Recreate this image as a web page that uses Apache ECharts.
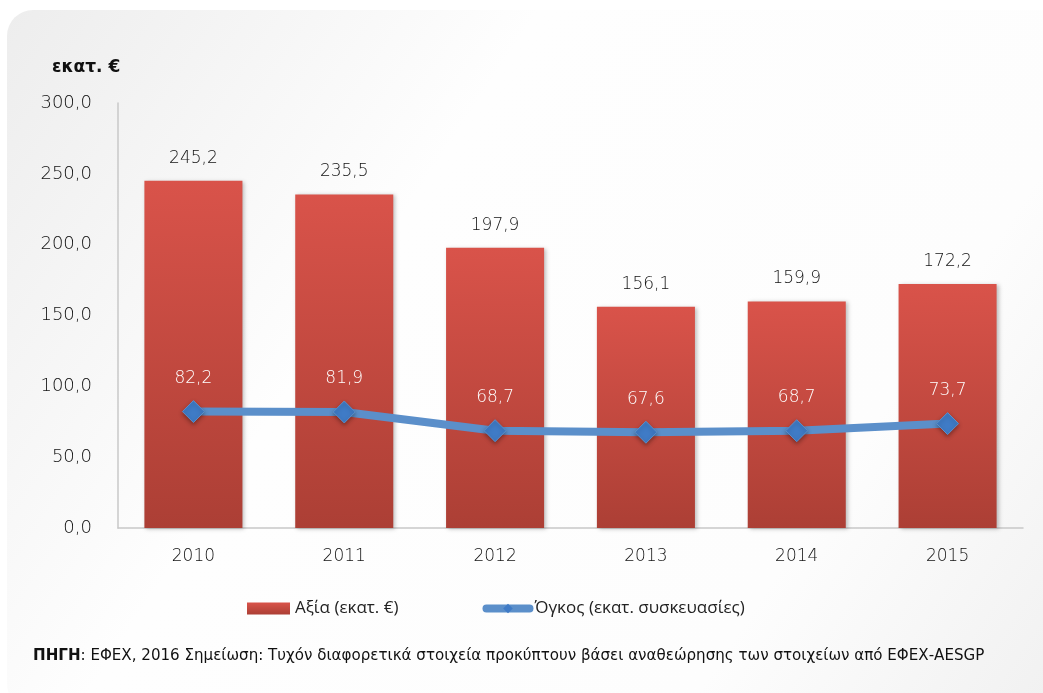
<!DOCTYPE html>
<html><head><meta charset="utf-8">
<script src="https://cdn.jsdelivr.net/npm/echarts@6/dist/echarts.min.js"></script>
<style>html,body{margin:0;padding:0;background:#fff}#c{width:1043px;height:693px}</style>
</head><body><div id="c"></div>
<script>
const years = ['2010','2011','2012','2013','2014','2015'];
const valueSeries = [245.2, 235.5, 197.9, 156.1, 159.9, 172.2];
const volumeSeries = [82.2, 81.9, 68.7, 67.6, 68.7, 73.7];
const yTicks = {min: 0, max: 300, interval: 50};
const FONT = 'DejaVu Sans';
const LFONT = 'Open Sans';
const W = 300;
const fmt = v => (typeof v === 'number' ? v : v.value).toFixed(1).replace('.', ',');

const chart = echarts.init(document.getElementById('c'), null, {renderer: 'canvas'});
chart.setOption({
  animation: false,
  backgroundColor: '#ffffff',
  textStyle: {fontFamily: FONT},
  graphic: [
    {type: 'rect', z: -10, shape: {x: 7, y: 10, width: 1060, height: 700, r: 26},
     style: {fill: new echarts.graphic.LinearGradient(0, 0, 1, 1, [
       {offset: 0, color: '#ededed'}, {offset: 0.35, color: '#fefefe'}, {offset: 0.75, color: '#fdfdfd'}, {offset: 1, color: '#f0f0f0'}])}},
    {type: 'text', left: 52, top: 59, z: 5,
     style: {text: 'εκατ. €', font: 'bold 17px "' + FONT + '"', fill: '#111'}},
    {type: 'text', left: 33, top: 649, z: 5,
     style: {text: '{b|ΠΗΓΗ}: ΕΦΕΧ, 2016 Σημείωση: Τυχόν διαφορετικά στοιχεία προκύπτουν βάσει αναθεώρησης των στοιχείων από ΕΦΕΧ-AESGP',
       font: '15.1px "' + FONT + '"', fill: '#111',
       rich: {b: {fontWeight: 'bold', fontSize: 15.1, fontFamily: FONT, fill: '#111'}}}}
  ],
  grid: {left: 118, right: 20, top: 103, bottom: 165, containLabel: false},
  legend: {
    left: 242, top: 595, itemGap: 84, itemWidth: 43, itemHeight: 12,
    textStyle: {fontSize: 17, color: '#222', fontFamily: LFONT},
    data: [
      {name: 'Αξία (εκατ. €)', icon: 'rect'},
      {name: 'Όγκος (εκατ. συσκευασίες)', lineStyle: {width: 8, color: '#5b8fca', cap: 'round'},
       itemStyle: {color: '#3f7bc6', borderWidth: 0}, symbolSize: 11}
    ]
  },
  xAxis: {
    type: 'category', data: years,
    axisLine: {show: true, lineStyle: {color: '#c8c8c8', width: 1.5}},
    axisTick: {show: false},
    axisLabel: {fontSize: 17, color: '#111', margin: 20, fontFamily: FONT, fontWeight: W}
  },
  yAxis: {
    type: 'value', min: yTicks.min, max: yTicks.max, interval: yTicks.interval,
    axisLine: {show: true, lineStyle: {color: '#c8c8c8', width: 1.5}},
    axisTick: {show: false},
    splitLine: {show: false},
    axisLabel: {fontSize: 18, color: '#111', margin: 26, formatter: v => v.toFixed(1).replace('.', ','), fontFamily: FONT, fontWeight: W}
  },
  series: [
    {
      name: 'Αξία (εκατ. €)', type: 'bar', data: valueSeries, barWidth: '65%',
      itemStyle: {
        color: new echarts.graphic.LinearGradient(0, 0, 0, 1, [
          {offset: 0, color: '#d9534a'}, {offset: 1, color: '#ac3f35'}]),
        shadowColor: 'rgba(0,0,0,0.25)', shadowBlur: 4, shadowOffsetX: 2, shadowOffsetY: 1
      },
      label: {show: true, position: 'top', distance: 14, fontSize: 17, color: '#111', formatter: p => fmt(p.value), fontFamily: FONT, fontWeight: W}
    },
    {
      name: 'Όγκος (εκατ. συσκευασίες)', type: 'line', data: volumeSeries,
      symbol: 'diamond', symbolSize: 22,
      lineStyle: {color: '#5b8fca', width: 8},
      itemStyle: {color: '#3f7bc6', borderColor: '#5b8fca', borderWidth: 1, shadowColor: 'rgba(0,0,0,0.35)', shadowBlur: 4, shadowOffsetY: 2},
      label: {show: true, position: 'top', distance: 13, fontSize: 17, color: '#ffffff', formatter: p => fmt(p.value), fontFamily: FONT, fontWeight: W},
      z: 5
    }
  ]
});
</script></body></html>
